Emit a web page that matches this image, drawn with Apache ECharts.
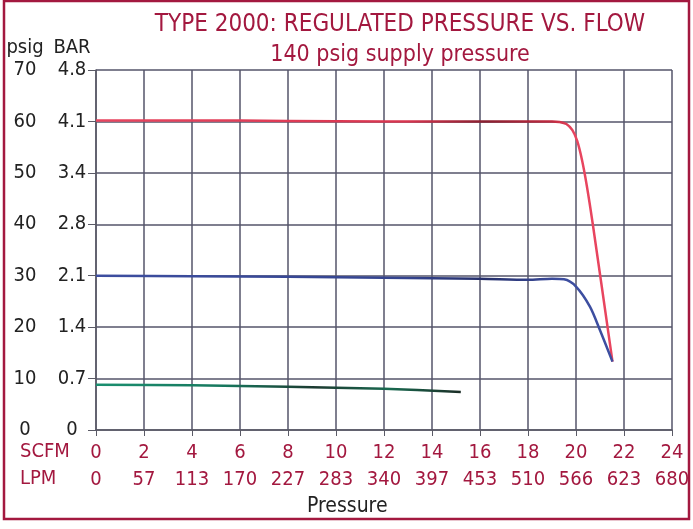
<!DOCTYPE html>
<html>
<head>
<meta charset="utf-8">
<script src="https://cdn.jsdelivr.net/npm/echarts@6/dist/echarts.min.js"></script>
<style>
  html, body { margin: 0; padding: 0; background: #fff; }
  #chart { width: 693px; height: 529px; }
</style>
</head>
<body>
<div id="chart"></div>
<script>
  // 刻度
  var scfmTicks = [0, 2, 4, 6, 8, 10, 12, 14, 16, 18, 20, 22, 24];
  var lpmTicks = [0, 57, 113, 170, 227, 283, 340, 397, 453, 510, 566, 623, 680];
  var psigTicks = [0, 10, 20, 30, 40, 50, 60, 70];
  var barTicks = ["0", "0.7", "1.4", "2.1", "2.8", "3.4", "4.1", "4.8"];

  // 曲线 [SCFM, psig]
  var red60 = [[0, 60.2], [4, 60.2], [8, 60.1], [12, 60.0], [16, 60.0], [19, 60.0], [19.3, 59.9],
    [19.6, 59.5], [19.85, 58.3], [20.05, 56.2], [20.25, 52.5], [20.45, 47.5], [20.7, 40], [21.52, 13.3]];
  var blue30 = [[0, 30.0], [4, 29.9], [8, 29.8], [12, 29.6], [16, 29.4], [18, 29.2], [19, 29.4], [19.5, 29.3],
    [20, 27.9], [20.58, 24.0], [21, 19.4], [21.52, 13.3]];
  var green9 = [[0, 8.8], [4, 8.7], [8, 8.4], [12, 8.0], [15.2, 7.4]];

  var font = '"DejaVu Sans Condensed", "Liberation Sans", sans-serif';
  var crimson = "#a3183f";

  var myChart = echarts.init(document.getElementById("chart"));

  var option = {
    backgroundColor: "#fff",
    animation: false,
    textStyle: { fontFamily: font },
    title: [
      {
        text: "TYPE 2000: REGULATED PRESSURE VS. FLOW",
        left: 395, top: 8, textAlign: "center",
        textStyle: { color: crimson, fontSize: 24, fontWeight: "normal", fontFamily: font }
      },
      {
        text: "140 psig supply pressure",
        left: 395, top: 39, textAlign: "center",
        textStyle: { color: crimson, fontSize: 23, fontWeight: "normal", fontFamily: font }
      }
    ],
    grid: { left: 96, right: 21, top: 70, bottom: 99 },
    xAxis: {
      type: "value",
      min: 0, max: 24, interval: 2,
      axisLine: { show: true, lineStyle: { color: "#5a5a66", width: 1.5 } },
      axisTick: { show: true, length: 6, lineStyle: { color: "#5a5a66" } },
      splitLine: { show: true, lineStyle: { color: "#55556a", width: 1.5 } },
      axisLabel: {
        margin: 9,
        formatter: function (v) {
          var i = scfmTicks.indexOf(v);
          return "{a|" + scfmTicks[i] + "}\n{b|" + lpmTicks[i] + "}";
        },
        rich: {
          a: { color: crimson, fontSize: 20, fontFamily: font, lineHeight: 27 },
          b: { color: crimson, fontSize: 20, fontFamily: font, lineHeight: 27 }
        }
      }
    },
    yAxis: [
      {
        type: "value",
        position: "left",
        min: 0, max: 70, interval: 10,
        axisLine: { show: true, lineStyle: { color: "#5a5a66", width: 1.5 } },
        axisTick: { show: true, length: 8, lineStyle: { color: "#5a5a66" } },
        splitLine: { show: true, lineStyle: { color: "#55556a", width: 1.5 } },
        axisLabel: {
          margin: 71, align: "center", color: "#222", fontSize: 20, fontFamily: font,
          formatter: function (v) { return psigTicks[psigTicks.indexOf(v)]; }
        },
        name: "psig",
        nameLocation: "end",
        nameGap: 12,
        nameTextStyle: { color: "#222", fontSize: 20, fontFamily: font, align: "center", padding: [0, 0, 0, -142] }
      },
      {
        type: "value",
        position: "left",
        min: 0, max: 70, interval: 10,
        axisLine: { show: false },
        axisTick: { show: false },
        splitLine: { show: false },
        axisLabel: {
          margin: 24, align: "center", color: "#222", fontSize: 20, fontFamily: font,
          formatter: function (v) { return barTicks[psigTicks.indexOf(v)]; }
        },
        name: "BAR",
        nameLocation: "end",
        nameGap: 12,
        nameTextStyle: { color: "#222", fontSize: 20, fontFamily: font, align: "center", padding: [0, 0, 0, -48] }
      }
    ],
    graphic: [
      {
        type: "rect",
        shape: { x: 4, y: 1, width: 685, height: 518 },
        style: { fill: null, stroke: crimson, lineWidth: 2.5 },
        silent: true
      },
      {
        type: "text", left: 20, top: 442,
        style: { text: "SCFM", fill: crimson, fontSize: 20, fontFamily: font }
      },
      {
        type: "text", left: 20, top: 469,
        style: { text: "LPM", fill: crimson, fontSize: 20, fontFamily: font }
      },
      {
        type: "text", left: 307, top: 496,
        style: { text: "Pressure", fill: "#222", fontSize: 21, fontFamily: font }
      }
    ],
    series: [
      {
        name: "60 psig",
        type: "line",
        data: red60,
        smooth: 0.3,
        showSymbol: false,
        lineStyle: {
          width: 2.5,
          color: new echarts.graphic.LinearGradient(0, 0, 1, 0, [
            { offset: 0, color: "#e8455f" },
            { offset: 0.6, color: "#d8354f" },
            { offset: 0.75, color: "#8a2030" },
            { offset: 0.88, color: "#c02a40" },
            { offset: 0.92, color: "#e8455f" },
            { offset: 1, color: "#e8455f" }
          ])
        }
      },
      {
        name: "30 psig",
        type: "line",
        data: blue30,
        smooth: 0.3,
        showSymbol: false,
        lineStyle: {
          width: 2.5,
          color: new echarts.graphic.LinearGradient(0, 0, 1, 0, [
            { offset: 0, color: "#3d4ea0" },
            { offset: 0.6, color: "#34448f" },
            { offset: 0.75, color: "#252f6a" },
            { offset: 0.9, color: "#3d4ea0" },
            { offset: 1, color: "#3d4ea0" }
          ])
        }
      },
      {
        name: "9 psig",
        type: "line",
        data: green9,
        smooth: 0.3,
        showSymbol: false,
        lineStyle: {
          width: 2.5,
          color: new echarts.graphic.LinearGradient(0, 0, 1, 0, [
            { offset: 0, color: "#1b9070" },
            { offset: 0.35, color: "#17785e" },
            { offset: 0.6, color: "#1c3a30" },
            { offset: 0.8, color: "#196a50" },
            { offset: 1, color: "#1a2a24" }
          ])
        }
      }
    ]
  };

  myChart.setOption(option);
  window.addEventListener("resize", function () {
    myChart.resize();
  });
</script>
</body>
</html>
